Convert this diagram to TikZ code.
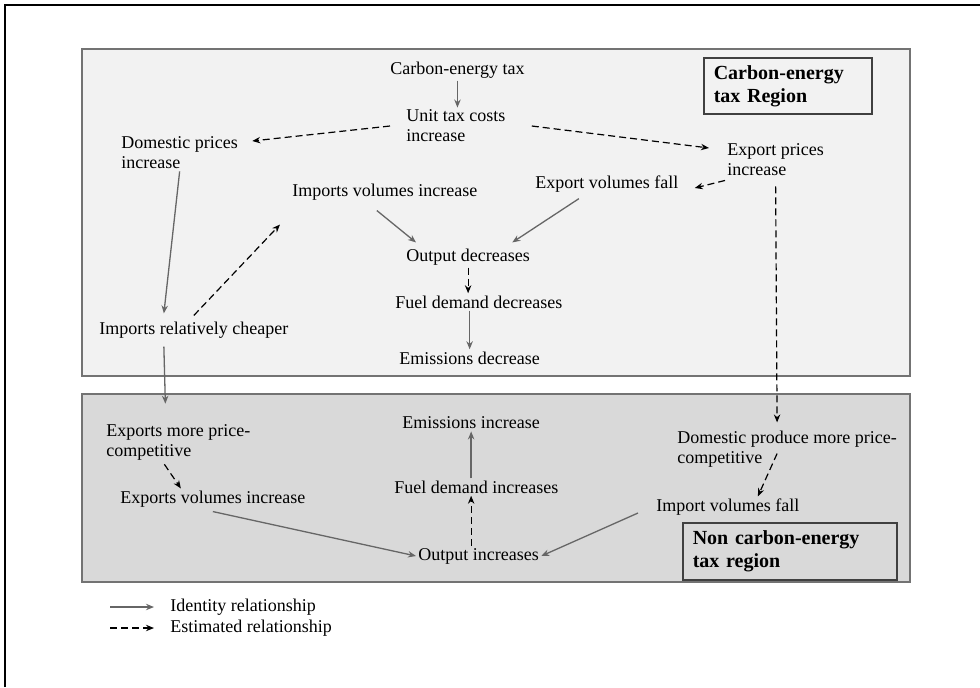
\documentclass[tikz,border=0pt]{standalone}
\usepackage{fontspec}
\setmainfont{Liberation Serif}
\usetikzlibrary{arrows.meta}

\begin{document}
\begin{tikzpicture} [
    x=0.5pt, y=-0.5pt,
    every node/.style = {font=\fontsize{9}{10}\selectfont, inner sep=1pt, align=left},
    txt/.style = {anchor=west},
    ident/.style = {draw=black!60, line width=0.65pt, -{Stealth[length=4pt, width=3.2pt]}},
    estim/.style = {draw=black, line width=0.6pt, dash pattern=on 3.5pt off 2pt,
        -{Stealth[length=4pt, width=3.2pt]}},
    regbox/.style = {draw=black!55, line width=1pt},
    titlebox/.style = {draw=black!75, line width=0.8pt, anchor=north west,
        font=\fontsize{10}{11.5}\selectfont\bfseries, inner xsep=5pt}]
    \useasboundingbox (0,0) rectangle (980,687);
    \draw [line width=1pt] (5,687) -- (5,5) -- (980,5);

    \draw [regbox, fill=black!5] (82,49) rectangle (910,376);
    \draw [regbox, fill=black!15] (82,394) rectangle (910,582);

    \node (reg1) [titlebox, text width=74pt, minimum height=28pt] at (703,57)
        {Carbon-energy\\tax Region};
    \node (reg2) [titlebox, text width=97pt, minimum height=28.5pt] at (682,522)
        {Non carbon-energy\\tax region};

    \node (tax) [txt] at (388,70) {Carbon-energy tax};
    \node (unit) [txt] at (404,126) {Unit tax costs\\increase};
    \node (dom) [txt] at (119,153) {Domestic prices\\increase};
    \node (expp) [txt] at (725,160) {Export prices\\increase};
    \node (expv) [txt] at (533,184) {Export volumes fall};
    \node (impv) [txt] at (290,192) {Imports volumes increase};
    \node (outd) [txt] at (404,257) {Output decreases};
    \node (fueld) [txt] at (393,302) {Fuel demand decreases};
    \node (emd) [txt] at (397,358) {Emissions decrease};
    \node (irc) [txt] at (97,330) {Imports relatively cheaper};

    \node (epc) [txt] at (104,442) {Exports more price-\\competitive};
    \node (evi) [txt] at (118,499) {Exports volumes increase};
    \node (emi) [txt] at (400,423) {Emissions increase};
    \node (fueli) [txt] at (392,487) {Fuel demand increases};
    \node (outi) [txt] at (416,556) {Output increases};
    \node (dpc) [txt] at (675,449) {Domestic produce more price-\\competitive};
    \node (ivf) [txt] at (654,507) {Import volumes fall};

    \node (lgid) [txt] at (168,607) {Identity relationship};
    \node (lgest) [txt] at (168,628) {Estimated relationship};

    \path
        (tax.south) edge [ident] (tax.south |- unit.north)
        ([xshift=-7pt]unit.west) edge [estim] ([xshift=6pt, yshift=6pt]dom.east)
        ([xshift=12pt]unit.east) edge [estim] ([xshift=-8pt, yshift=6pt]expp.west)
        ([yshift=-1pt]expp.south west) edge [estim] ([xshift=7pt, yshift=-2pt]expv.east)
        ([xshift=-4pt, yshift=-4pt]impv.south) edge [ident] ([xshift=6pt, yshift=2pt]outd.north west)
        ([xshift=-14pt, yshift=-2pt]expv.south) edge [ident] ([xshift=-10pt, yshift=2pt]outd.north east)
        (outd.south) edge [estim] (outd.south |- fueld.north)
        (emd.north |- fueld.south) edge [ident] (emd.north)
        (dom.south) edge [ident] ([xshift=-15pt, yshift=3pt]irc.north)
        ([yshift=2pt]irc.north) edge [estim] ([xshift=-5pt, yshift=-11pt]impv.south west)
        ([xshift=-15pt, yshift=-3pt]irc.south) edge [ident] ([xshift=-6.5pt, yshift=9pt]epc.north)
        ([yshift=-4pt]expp.south) edge [estim] ([xshift=-5pt, yshift=3pt]dpc.north)

        ([xshift=-7pt, yshift=-1pt]epc.south) edge [estim] ([xshift=-16pt]evi.north)
        ([yshift=-1pt]evi.south) edge [ident] (outi.west)
        (emi.south |- outi.north) edge [estim] (emi.south |- fueli.south)
        (emi.south |- fueli.north) edge [ident] (emi.south)
        ([xshift=-5pt, yshift=8pt]dpc.south) edge [estim] ([xshift=15pt]ivf.north)
        ([xshift=-8pt, yshift=-3pt]ivf.west) edge [ident] (outi.east)

        ([xshift=-29pt]lgid.west) edge [ident] ([xshift=-7pt]lgid.west)
        ([xshift=-29pt]lgest.west) edge [estim] ([xshift=-7pt]lgest.west);
\end{tikzpicture}
\end{document}
